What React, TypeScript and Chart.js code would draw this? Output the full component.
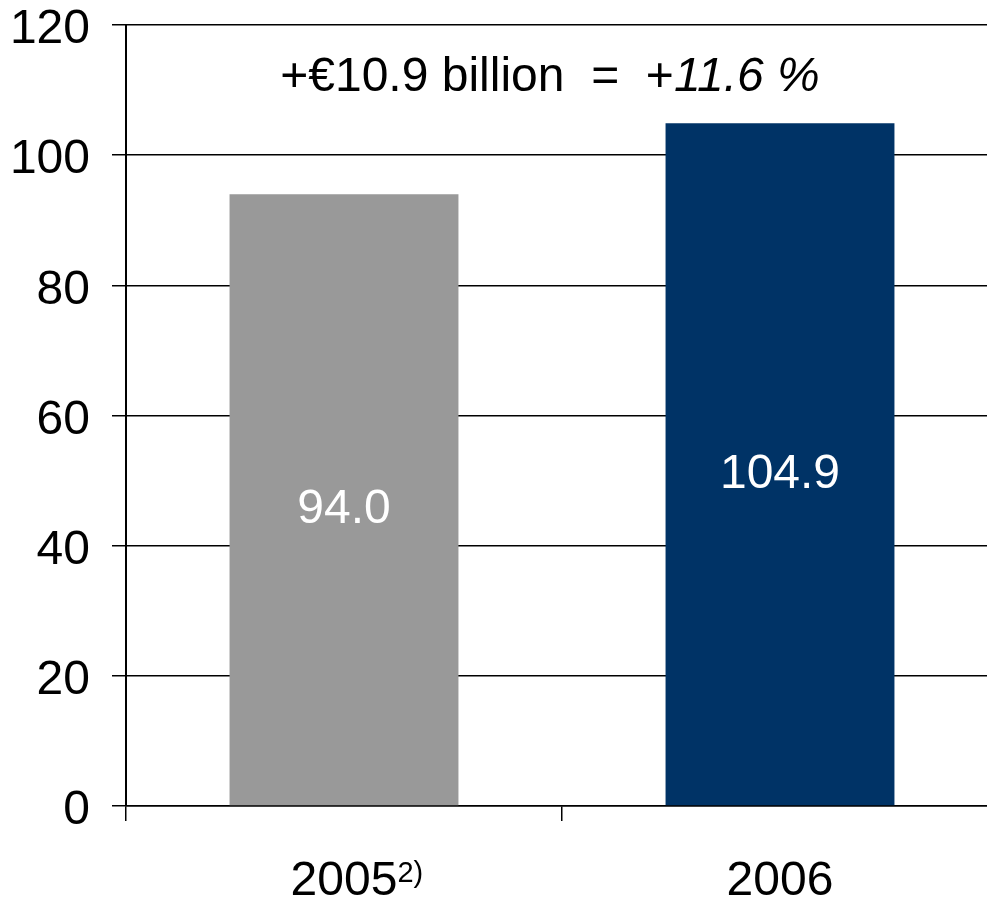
import React, { useEffect, useRef } from "react";
import { Chart, registerables } from "chart.js";

Chart.register(...registerables);

const categories = ["2005", "2006"];
const categoryNotes = ["2)", ""];
const values = [94.0, 104.9];
const barColors = ["#999999", "#003366"];
const yTicks = { min: 0, max: 120, step: 20 };
const headlineUpright = "+€10.9 billion  =  +";
const headlineItalic = "11.6 %";

const FONT = '"Liberation Sans", Arial, sans-serif';

const labelsPlugin = {
  id: "customLabels",
  afterDatasetsDraw(chart: any) {
    const ctx = chart.ctx;
    const meta = chart.getDatasetMeta(0);
    ctx.save();
    ctx.fillStyle = "#ffffff";
    ctx.font = `48px ${FONT}`;
    ctx.textAlign = "center";
    ctx.textBaseline = "alphabetic";
    meta.data.forEach((bar: any, i: number) => {
      const mid = (bar.y + bar.base) / 2;
      ctx.fillText(values[i].toFixed(1), bar.x, mid + 23.5);
    });
    ctx.restore();
  },
  afterDraw(chart: any) {
    const ctx = chart.ctx;
    const xs = chart.scales.x;
    ctx.save();
    ctx.fillStyle = "#000000";
    ctx.textBaseline = "alphabetic";
    categories.forEach((c, i) => {
      const px = xs.getPixelForValue(i);
      ctx.font = `48px ${FONT}`;
      ctx.textAlign = "center";
      ctx.fillText(c, px, 895);
      const w = ctx.measureText(c).width;
      if (categoryNotes[i]) {
        ctx.font = `29px ${FONT}`;
        ctx.textAlign = "left";
        ctx.fillText(categoryNotes[i], px + w / 2, 882);
      }
    });
    // headline
    ctx.textAlign = "left";
    ctx.font = `48px ${FONT}`;
    const w1 = ctx.measureText(headlineUpright).width;
    ctx.font = `italic 48px ${FONT}`;
    const w2 = ctx.measureText(headlineItalic).width;
    const start = 550 - (w1 + w2) / 2;
    ctx.font = `48px ${FONT}`;
    ctx.fillText(headlineUpright, start, 91);
    ctx.font = `italic 48px ${FONT}`;
    ctx.fillText(headlineItalic, start + w1, 91);
    ctx.restore();
  },
};

export default function App() {
  const ref = useRef<HTMLCanvasElement | null>(null);

  useEffect(() => {
    if (!ref.current) return;
    const chart = new Chart(ref.current, {
      type: "bar",
      data: {
        labels: categories,
        datasets: [
          {
            data: values,
            backgroundColor: barColors,
            borderWidth: 0,
            categoryPercentage: 1,
            barPercentage: 0.525,
          },
        ],
      },
      options: {
        responsive: false,
        animation: false,
        devicePixelRatio: 1,
        layout: { padding: { top: 25, left: 0, right: 0, bottom: 0 } },
        plugins: {
          legend: { display: false },
          tooltip: { enabled: false },
          title: { display: false },
        },
        scales: {
          x: {
            grid: {
              display: true,
              drawOnChartArea: false,
              offset: true,
              tickLength: 15,
              color: "#000000",
              lineWidth: 1.5,
            },
            border: { display: true, color: "#000000", width: 1.5 },
            ticks: { display: false },
            afterFit: (s: any) => {
              s.height = 95;
              s.paddingLeft = 0;
              s.paddingRight = 0;
            },
          },
          y: {
            min: yTicks.min,
            max: yTicks.max,
            ticks: {
              stepSize: yTicks.step,
              color: "#000000",
              font: { family: FONT, size: 48, lineHeight: 1 },
              padding: 22,
              labelOffset: 5,
            },
            grid: {
              color: "#000000",
              lineWidth: 1.5,
              tickLength: 14,
            },
            border: { display: true, color: "#000000", width: 2 },
            afterFit: (s: any) => {
              s.width = 126;
              s.paddingTop = 0;
              s.paddingBottom = 0;
            },
          },
        },
      },
      plugins: [labelsPlugin],
    });
    return () => chart.destroy();
  }, []);

  return (
    <div
      style={{
        position: "fixed",
        left: 0,
        top: 0,
        width: 987,
        height: 901,
        overflow: "hidden",
        background: "#ffffff",
      }}
    >
      <canvas ref={ref} width={998} height={901} style={{ width: 998, height: 901, display: "block" }} />
    </div>
  );
}
